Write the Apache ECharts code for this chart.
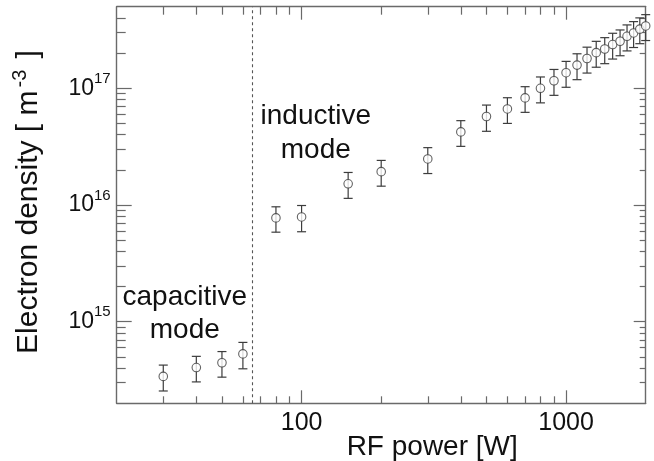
<!DOCTYPE html>
<html>
<head>
<meta charset="utf-8">
<script src="https://cdn.jsdelivr.net/npm/echarts@6/dist/echarts.min.js"></script>
<style>
  html, body { margin: 0; padding: 0; background: #ffffff; }
  #chart { width: 654px; height: 461px; }
</style>
</head>
<body>
<div id="chart"></div>
<script>
// RF power (W) and measured electron density (m^-3) with its uncertainty
const power = [30, 40, 50, 60, 80, 100, 150, 200, 300, 400, 500, 600, 700, 800, 900,
  1000, 1100, 1200, 1300, 1400, 1500, 1600, 1700, 1800, 1900, 2000];
const density = [3.4e14, 4.05e14, 4.45e14, 5.3e14, 7.75e15, 7.9e15, 1.52e16, 1.93e16,
  2.48e16, 4.23e16, 5.73e16, 6.65e16, 8.27e16, 1.0e17, 1.16e17, 1.36e17, 1.58e17,
  1.80e17, 2.02e17, 2.17e17, 2.37e17, 2.53e17, 2.79e17, 2.98e17, 3.21e17, 3.42e17];
const densityErr = [0.85e14, 1.0e14, 1.1e14, 1.35e14, 1.9e15, 2.0e15, 3.8e15, 4.8e15,
  6.2e15, 1.05e16, 1.45e16, 1.65e16, 2.05e16, 2.5e16, 2.9e16, 3.4e16, 3.95e16,
  4.5e16, 5.05e16, 5.45e16, 5.9e16, 6.3e16, 7.0e16, 7.45e16, 8.0e16, 8.55e16];

// Capacitive / inductive transition power (W)
const modeBoundary = 65;

// Axis ranges and tick values
const xRange = [20, 2000];
const yRange = [2e14, 5e17];
const xMajorTicks = [100, 1000];
const xMinorTicks = [30, 40, 50, 60, 70, 80, 90, 200, 300, 400, 500, 600, 700, 800, 900];
const yMajorTicks = [1e15, 1e16, 1e17];
const yMinorTicks = [3e14, 4e14, 5e14, 6e14, 7e14, 8e14, 9e14,
  2e15, 3e15, 4e15, 5e15, 6e15, 7e15, 8e15, 9e15,
  2e16, 3e16, 4e16, 5e16, 6e16, 7e16, 8e16, 9e16,
  2e17, 3e17, 4e17];

const FONT = '"Liberation Sans", Arial, Helvetica, sans-serif';
const FRAME = '#6a6a6a';
const INK = '#111111';
const MARK = '#3c3c3c';

const points = power.map((p, i) => [p, density[i]]);
const errorBars = power.map((p, i) => [p, density[i] - densityErr[i], density[i] + densityErr[i]]);

function xAxisDef(position, ticks, len, withLine, withLabels, extra) {
  return Object.assign({
    type: 'log', logBase: 10, min: xRange[0], max: xRange[1], position: position,
    axisLine: { show: withLine, onZero: false, lineStyle: { color: FRAME, width: 1.4 } },
    axisTick: { show: true, inside: true, length: len, customValues: ticks,
      lineStyle: { color: FRAME, width: 1.2 } },
    axisLabel: { show: withLabels, customValues: ticks, margin: 7,
      formatter: v => String(Math.round(v)),
      color: INK, fontSize: 25, fontFamily: FONT },
    splitLine: { show: false }, minorTick: { show: false }
  }, extra || {});
}

function yAxisDef(position, ticks, len, withLine, withLabels, extra) {
  return Object.assign({
    type: 'log', logBase: 10, min: yRange[0], max: yRange[1], position: position,
    axisLine: { show: withLine, onZero: false, lineStyle: { color: FRAME, width: 1.4 } },
    axisTick: { show: true, inside: true, length: len, customValues: ticks,
      lineStyle: { color: FRAME, width: 1.2 } },
    axisLabel: {
      show: withLabels, customValues: ticks, margin: 6,
      formatter: v => '{b|10}{s|' + Math.round(Math.log10(v)) + '}',
      rich: {
        b: { fontSize: 23, fontFamily: FONT, color: INK, lineHeight: 34 },
        s: { fontSize: 15, fontFamily: FONT, color: INK, lineHeight: 15, verticalAlign: 'top' }
      }
    },
    splitLine: { show: false }, minorTick: { show: false }
  }, extra || {});
}

const chart = echarts.init(document.getElementById('chart'), null, { renderer: 'canvas' });

chart.setOption({
  backgroundColor: '#ffffff',
  animation: false,
  grid: { left: 116.7, right: 8.3, top: 6.7, bottom: 57.7, containLabel: false,
    outerBoundsMode: 'none' },
  xAxis: [
    xAxisDef('bottom', xMajorTicks, 13, true, true, {
      name: 'RF power [W]', nameLocation: 'middle', nameGap: 30, nameMoveOverlap: false,
      nameTextStyle: { fontSize: 28, fontFamily: FONT, color: INK, padding: [0, 0, 0, 102] }
    }),
    xAxisDef('bottom', xMinorTicks, 7, false, false),
    xAxisDef('top', xMajorTicks, 13, true, false),
    xAxisDef('top', xMinorTicks, 8, false, false)
  ],
  yAxis: [
    yAxisDef('left', yMajorTicks, 15, true, true, {
      name: '{a|Electron density [ m}{s|-3}{a| ]}', nameLocation: 'middle', nameGap: 70,
      nameRotate: 90, nameMoveOverlap: false,
      nameTextStyle: {
        padding: [0, 0, 0, 6],
        rich: {
          a: { fontSize: 30, fontFamily: FONT, color: INK, lineHeight: 36 },
          s: { fontSize: 20, fontFamily: FONT, color: INK, lineHeight: 20, verticalAlign: 'top',
            padding: [0, 3, 0, 3] }
        }
      }
    }),
    yAxisDef('left', yMinorTicks, 9, false, false),
    yAxisDef('right', yMajorTicks, 12, true, false),
    yAxisDef('right', yMinorTicks, 6, false, false)
  ],
  series: [
    {
      type: 'custom',
      name: 'uncertainty',
      xAxisIndex: 0, yAxisIndex: 0,
      data: errorBars,
      z: 2,
      renderItem: function (params, api) {
        const lo = api.coord([api.value(0), api.value(1)]);
        const hi = api.coord([api.value(0), api.value(2)]);
        const cap = 4.5;
        const style = { stroke: MARK, lineWidth: 1.2, fill: null };
        return {
          type: 'group',
          children: [
            { type: 'line', shape: { x1: lo[0], y1: lo[1], x2: hi[0], y2: hi[1] }, style: style },
            { type: 'line', shape: { x1: lo[0] - cap, y1: lo[1], x2: lo[0] + cap, y2: lo[1] }, style: style },
            { type: 'line', shape: { x1: hi[0] - cap, y1: hi[1], x2: hi[0] + cap, y2: hi[1] }, style: style }
          ]
        };
      }
    },
    {
      type: 'scatter',
      name: 'electron density',
      xAxisIndex: 0, yAxisIndex: 0,
      data: points,
      symbol: 'circle',
      symbolSize: 8.5,
      z: 3,
      itemStyle: { color: '#ffffff', borderColor: MARK, borderWidth: 1.1 },
      markLine: {
        silent: true,
        symbol: 'none',
        label: { show: false },
        lineStyle: { color: '#555555', width: 1.1, type: [3, 3] },
        data: [{ xAxis: modeBoundary }]
      }
    }
  ],
  graphic: [
    {
      type: 'text', x: 184.8, y: 280.5, z: 10,
      style: { text: 'capacitive\nmode', fontSize: 28, fontFamily: FONT, fill: INK,
        align: 'center', verticalAlign: 'top', lineHeight: 33.5 }
    },
    {
      type: 'text', x: 315.8, y: 99.5, z: 10,
      style: { text: 'inductive\nmode', fontSize: 28, fontFamily: FONT, fill: INK,
        align: 'center', verticalAlign: 'top', lineHeight: 34 }
    }
  ]
});
</script>
</body>
</html>
